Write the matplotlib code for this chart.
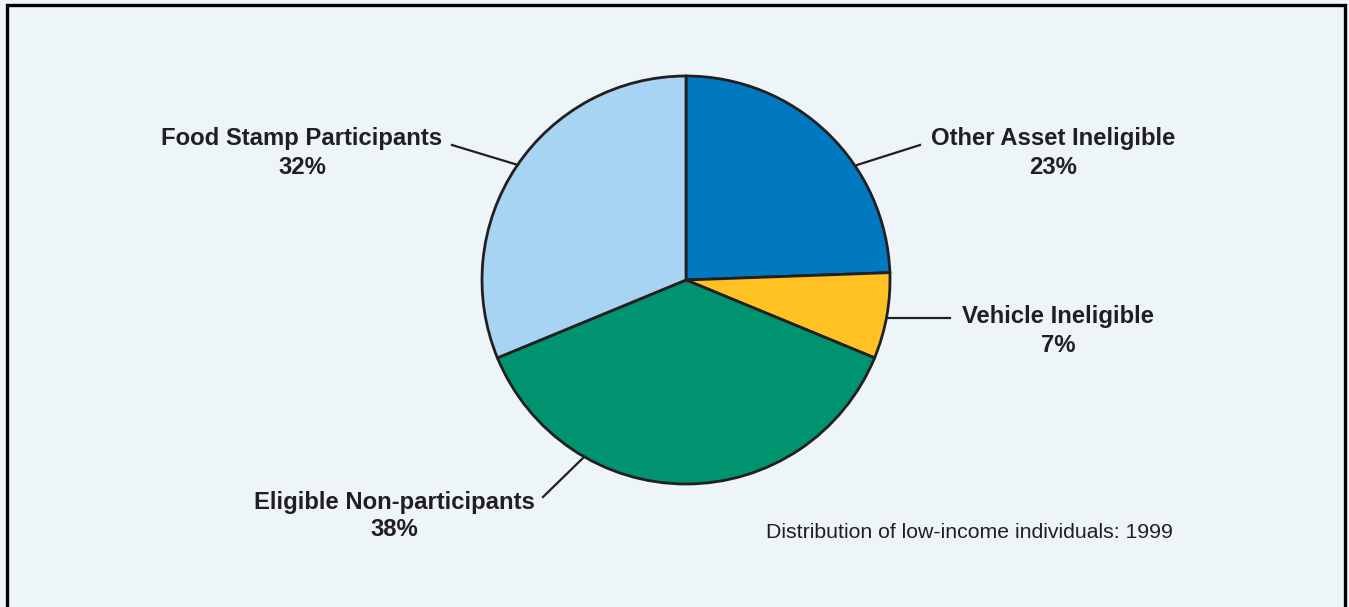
import matplotlib.pyplot as plt

# wedge shares as drawn (clockwise from 12 o'clock) and the printed labels
names = ['Other Asset Ineligible', 'Vehicle Ineligible',
         'Eligible Non-participants', 'Food Stamp Participants']
shares = [24.4, 6.8, 37.5, 31.2]
pct_labels = ['23%', '7%', '38%', '32%']
colors = ['#0079c1', '#ffc222', '#00936f', '#a6d4f2']
note = 'Distribution of low-income individuals: 1999'

W, H = 1349, 607
fig = plt.figure(figsize=(W / 100, H / 100), dpi=100)
fig.patch.set_facecolor('#edf5f9')
ax = fig.add_axes([0, 0, 1, 1])

def fy(y):  # picture rows -> axes y
    return H - y

ax.pie(shares, colors=colors, startangle=90, counterclock=False,
       center=(686, fy(280)), radius=204, frame=True,
       wedgeprops=dict(edgecolor='#231f20', linewidth=2.0))
ax.set_xlim(0, W)
ax.set_ylim(0, H)
ax.axis('off')

# frame: left, top, right only
ax.plot([7, 7, 1345, 1345], [0, fy(5), fy(5), 0], color='black', lw=2.4,
        solid_joinstyle='miter')

# leader lines
lc = '#231f20'
ax.plot([857, 920], [fy(165), fy(145)], color=lc, lw=1.6)
ax.plot([887, 950], [fy(318), fy(318)], color=lc, lw=1.6)
ax.plot([543, 584], [fy(497), fy(457)], color=lc, lw=1.6)
ax.plot([452, 518], [fy(145), fy(165)], color=lc, lw=1.6)

lab_pos = [(1053, 139), (1058, 317), (394, 502), (302, 139)]
font = ['Liberation Sans', 'DejaVu Sans']
for name, pct, (x, y) in zip(names, pct_labels, lab_pos):
    ax.text(x, fy(y), name, ha='center', va='center', fontsize=17.2,
            fontweight='bold', color='#231f20', family=font)
    ax.text(x, fy(y + 28), pct, ha='center', va='center', fontsize=17.2,
            fontweight='bold', color='#231f20', family=font)

ax.text(1173, fy(533), note, ha='right', va='center', fontsize=15.3,
        color='#231f20', family=font)

fig.savefig('out.png', dpi=100, facecolor=fig.get_facecolor())
